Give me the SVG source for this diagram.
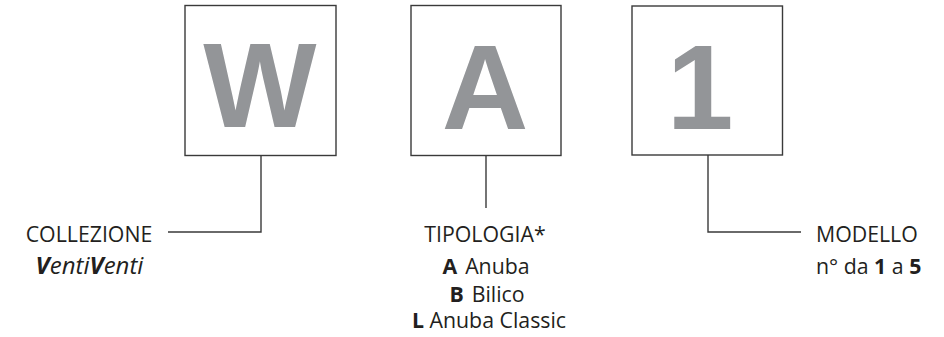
<svg xmlns="http://www.w3.org/2000/svg" width="944" height="337" viewBox="0 0 944 337">
<style>
.box{fill:#fff;stroke:#3a3a3a;stroke-width:1.4}
.big{font-family:"Liberation Sans",Arial,sans-serif;font-weight:700;font-size:120px;fill:#939598;text-anchor:middle}
.lbl{font-family:"Open Sans","Noto Sans",sans-serif;font-size:21.3px;fill:#231f20}
.c{text-anchor:middle}
.b{font-weight:700}
.it{font-style:italic;font-size:24px}
.conn{fill:none;stroke:#3a3a3a;stroke-width:1.4}
</style>
<rect width="944" height="337" fill="#fff"/>
<g id="connectors">
<polyline class="conn" points="261,156 261,232 168,232"/>
<line class="conn" x1="486" y1="155" x2="486" y2="208"/>
<polyline class="conn" points="708,155 708,232 801,232"/>
</g>
<g id="node-W">
<rect class="box" x="185" y="5.5" width="151" height="150"/>
<text class="big" x="260" y="127">W</text>
</g>
<g id="node-A">
<rect class="box" x="411" y="5.5" width="150" height="150"/>
<text class="big" x="485" y="129">A</text>
</g>
<g id="node-1">
<rect class="box" x="632" y="6" width="150.5" height="149"/>
<text class="big" x="700" y="129">1</text>
</g>
<g id="label-collezione">
<text class="lbl c" x="89" y="242">COLLEZIONE</text>
<text class="lbl c it" x="89.5" y="274"><tspan class="b">V</tspan>enti<tspan class="b">V</tspan>enti</text>
</g>
<g id="label-tipologia">
<text class="lbl c" x="485" y="242">TIPOLOGIA*</text>
<text class="lbl c" x="486" y="274"><tspan class="b">A</tspan><tspan dx="8">Anuba</tspan></text>
<text class="lbl c" x="487" y="301.5"><tspan class="b">B</tspan><tspan dx="8">Bilico</tspan></text>
<text class="lbl c" x="489" y="328"><tspan class="b">L</tspan> Anuba Classic</text>
</g>
<g id="label-modello">
<text class="lbl" x="816" y="242">MODELLO</text>
<text class="lbl" x="816" y="274">n° da <tspan class="b">1</tspan> a <tspan class="b">5</tspan></text>
</g>
</svg>
